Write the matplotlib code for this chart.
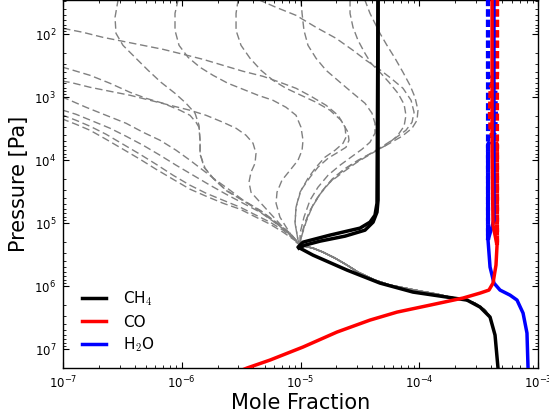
import numpy as np
import matplotlib
matplotlib.use("Agg")
import matplotlib.pyplot as plt

# ---------------- data (log10 mole fraction, log10 pressure [Pa]) ----------------
# nominal CH4 profile (black)
ch4_logp = [1.381, 4.683, 4.873, 4.984, 5.079, 5.190, 5.302, 5.381, 5.508, 5.746,
            5.952, 6.095, 6.175, 6.222, 6.333, 6.492, 6.778, 7.302, 7.492]
ch4_logx = [-4.347, -4.356, -4.373, -4.415, -4.499, -4.752, -4.979, -5.021, -4.895, -4.608,
            -4.331, -4.053, -3.766, -3.598, -3.488, -3.404, -3.362, -3.337, -3.337]
# second CH4 profile (quench region, black)
ch4b_logp = [1.381, 4.635, 4.825, 4.984, 5.111, 5.206, 5.286, 5.349, 5.397]
ch4b_logx = [-4.347, -4.347, -4.356, -4.389, -4.457, -4.625, -4.836, -4.962, -5.013]

# nominal CO profile (red)
co_logp = [1.381, 3.841, 5.032, 5.349, 5.667, 5.952, 6.063, 6.111, 6.190, 6.302,
           6.413, 6.540, 6.730, 6.968, 7.175, 7.302, 7.571]
co_logx = [-3.387, -3.387, -3.379, -3.345, -3.354, -3.379, -3.413, -3.488, -3.632, -3.909,
           -4.187, -4.415, -4.693, -4.979, -5.257, -5.451, -5.804]

# nominal H2O profile (blue)
h2o_logp = [1.381, 4.952, 5.270, 5.698, 5.952, 6.063, 6.143, 6.222, 6.429, 6.746, 7.302, 7.571]
h2o_logx = [-3.371, -3.371, -3.421, -3.404, -3.371, -3.320, -3.236, -3.177, -3.126, -3.093,
            -3.084, -3.084]

# other models: CO (red dashed) and H2O (blue dashed)
co_models_logp = [[1.381, 5.063, 5.349],
                  [1.381, 2.650, 2.850, 3.250, 3.550, 3.750, 5.349]]
co_models_logx = [[-3.345, -3.345, -3.345],
                  [-3.345, -3.345, -3.400, -3.405, -3.400, -3.345, -3.345]]
h2o_models_logp = [[1.381, 4.905, 5.270],
                   [1.381, 2.650, 2.850, 3.250, 3.550, 3.750, 4.905, 5.270]]
h2o_models_logx = [[-3.421, -3.421, -3.421],
                   [-3.421, -3.421, -3.360, -3.355, -3.360, -3.421, -3.421, -3.421]]

# other models: CH4 (grey dashed), upper-atmosphere part of each model
gray_logx = [
    # model top-left S curve
    [-6.528, -6.537, -6.562, -6.554, -6.495, -6.394, -6.284, -6.175, -6.057, -5.964, -5.888,
     -5.855, -5.846, -5.846, -5.813, -5.737, -5.627, -5.484, -5.341, -5.206, -5.088],
    [-7.194, -7.000, -6.941, -6.773, -6.604, -6.436, -6.301, -6.158, -6.015, -5.931, -5.880,
     -5.855, -5.846, -5.846, -5.804, -5.728, -5.619, -5.476, -5.333, -5.198, -5.080],
    [-7.194, -7.000, -6.941, -6.773, -6.604, -6.436, -6.267, -6.099, -5.931, -5.796, -5.653,
     -5.543, -5.459, -5.400, -5.375, -5.383, -5.417, -5.434, -5.417, -5.341, -5.257, -5.164, -5.063],
    [-7.278, -7.000, -6.832, -6.663, -6.495, -6.326, -6.158, -5.989, -5.821, -5.653, -5.484,
     -5.316, -5.173, -5.038, -4.912, -4.785, -4.684, -4.625, -4.617, -4.642, -4.709, -4.794,
     -4.869, -4.937, -5.004, -5.038, -5.046, -5.021],
    [-6.032, -6.032, -6.057, -6.057, -6.023, -5.947, -5.846, -5.737, -5.611, -5.484, -5.358,
     -5.232, -5.122, -5.038, -4.996, -4.979, -4.987, -5.021, -5.088, -5.156, -5.198, -5.206,
     -5.173, -5.105, -5.038],
    [-5.526, -5.526, -5.543, -5.543, -5.501, -5.425, -5.333, -5.232, -5.122, -4.996, -4.869,
     -4.752, -4.659, -4.600, -4.592, -4.617, -4.684, -4.768, -4.853, -4.920, -4.996, -5.038,
     -5.046, -5.021],
    [-5.383, -5.341, -5.206, -5.038, -4.869, -4.701, -4.558, -4.448, -4.347, -4.238, -4.137,
     -4.069, -4.044, -4.061, -4.112, -4.204, -4.322, -4.448, -4.575, -4.693, -4.785, -4.861,
     -4.928, -4.971, -5.004],
    [-4.996, -4.996, -4.987, -4.971, -4.937, -4.869, -4.785, -4.667, -4.558, -4.457, -4.398,
     -4.373, -4.373, -4.415, -4.482, -4.575, -4.667, -4.768, -4.853, -4.920, -4.971, -5.004],
    [-4.583, -4.583, -4.583, -4.558, -4.516, -4.457, -4.406, -4.331, -4.255, -4.179, -4.128,
     -4.112, -4.128, -4.187, -4.280, -4.398, -4.524, -4.642, -4.752, -4.836, -4.903, -4.954, -4.996],
    [-4.465, -4.457, -4.415, -4.373, -4.331, -4.272, -4.204, -4.137, -4.078, -4.036, -4.011,
     -4.019, -4.061, -4.145, -4.263, -4.389, -4.516, -4.634, -4.735, -4.819, -4.895, -4.954, -4.996],
    [-7.194, -7.000, -6.941, -6.806, -6.638, -6.469, -6.326, -6.183, -6.048, -5.931, -5.821,
     -5.712, -5.594, -5.484, -5.358, -5.240, -5.131, -5.038],
    [-7.194, -7.000, -6.891, -6.747, -6.604, -6.469, -6.326, -6.183, -6.048, -5.905, -5.762,
     -5.627, -5.484, -5.341, -5.232, -5.122, -5.038],
    [-7.194, -7.000, -6.891, -6.773, -6.638, -6.495, -6.352, -6.217, -6.074, -5.931, -5.796,
     -5.653, -5.509, -5.375, -5.257, -5.147, -5.038],
    [-7.194, -7.000, -6.891, -6.773, -6.638, -6.495, -6.352, -6.217, -6.074, -5.931, -5.796,
     -5.653, -5.509, -5.375, -5.257, -5.147, -5.038],
]
gray_logp = [
    [1.381, 1.460, 1.730, 1.984, 2.175, 2.365, 2.571, 2.762, 2.937, 3.095, 3.254,
     3.444, 3.683, 3.889, 4.111, 4.286, 4.476, 4.635, 4.794, 4.984, 5.159],
    [2.429, 2.524, 2.556, 2.651, 2.778, 2.921, 3.016, 3.095, 3.206, 3.286, 3.397,
     3.476, 3.698, 3.905, 4.127, 4.302, 4.492, 4.651, 4.810, 5.000, 5.175],
    [2.683, 2.746, 2.762, 2.841, 2.905, 2.968, 3.048, 3.127, 3.206, 3.286, 3.397,
     3.492, 3.603, 3.730, 3.889, 4.048, 4.190, 4.349, 4.508, 4.667, 4.841, 5.032, 5.222],
    [1.794, 1.905, 1.968, 2.048, 2.111, 2.175, 2.238, 2.317, 2.397, 2.492, 2.587,
     2.667, 2.762, 2.857, 2.984, 3.127, 3.286, 3.476, 3.635, 3.730, 3.841, 3.952,
     4.111, 4.286, 4.508, 4.746, 5.000, 5.270],
    [1.381, 1.460, 1.667, 1.937, 2.175, 2.365, 2.524, 2.651, 2.778, 2.873, 2.968,
     3.048, 3.159, 3.286, 3.476, 3.683, 3.841, 4.000, 4.159, 4.317, 4.508, 4.683,
     4.905, 5.111, 5.302],
    [1.381, 1.460, 1.667, 1.937, 2.175, 2.381, 2.571, 2.730, 2.857, 2.968, 3.079,
     3.206, 3.365, 3.556, 3.683, 3.794, 3.873, 3.968, 4.111, 4.270, 4.476, 4.746,
     5.000, 5.270],
    [1.381, 1.460, 1.571, 1.698, 1.889, 2.063, 2.254, 2.413, 2.540, 2.698, 2.857,
     3.048, 3.238, 3.397, 3.524, 3.651, 3.794, 3.937, 4.079, 4.238, 4.413, 4.603,
     4.825, 5.063, 5.302],
    [1.381, 1.460, 1.667, 1.937, 2.175, 2.381, 2.571, 2.762, 2.937, 3.095, 3.254,
     3.413, 3.571, 3.714, 3.825, 3.952, 4.079, 4.238, 4.429, 4.635, 4.905, 5.159],
    [1.381, 1.460, 1.667, 1.889, 2.095, 2.302, 2.460, 2.603, 2.762, 2.937, 3.111,
     3.286, 3.460, 3.619, 3.762, 3.889, 4.032, 4.190, 4.349, 4.540, 4.746, 4.984, 5.238],
    [1.381, 1.460, 1.667, 1.825, 1.984, 2.175, 2.381, 2.603, 2.810, 3.000, 3.206,
     3.365, 3.492, 3.619, 3.746, 3.873, 4.000, 4.143, 4.302, 4.492, 4.714, 4.952, 5.206],
    [2.889, 3.000, 3.048, 3.159, 3.286, 3.413, 3.556, 3.683, 3.841, 4.000, 4.159,
     4.317, 4.476, 4.635, 4.794, 4.952, 5.111, 5.270],
    [3.111, 3.206, 3.270, 3.381, 3.492, 3.619, 3.762, 3.921, 4.079, 4.238, 4.397,
     4.540, 4.683, 4.825, 4.968, 5.127, 5.286],
    [3.175, 3.286, 3.365, 3.460, 3.587, 3.746, 3.905, 4.063, 4.238, 4.397, 4.524,
     4.635, 4.746, 4.873, 4.984, 5.111, 5.286],
    [3.238, 3.349, 3.429, 3.524, 3.667, 3.825, 3.984, 4.143, 4.302, 4.460, 4.571,
     4.683, 4.778, 4.905, 5.016, 5.143, 5.286],
]
# shared deep part of the grey CH4 models
gray_deep_logx = [-5.004, -4.895, -4.811, -4.709, -4.608, -4.516, -4.373, -4.246, -4.120, -3.994,
                  -3.851, -3.741, -3.640, -3.531, -3.446, -3.404, -3.362, -3.337]
gray_deep_logp = [5.349, 5.397, 5.460, 5.556, 5.667, 5.778, 5.905, 5.984, 6.032, 6.079,
                  6.127, 6.175, 6.206, 6.270, 6.381, 6.492, 6.778, 7.302]

legend_labels = ["CH$_4$", "CO", "H$_2$O"]
x_limits = (1e-7, 1e-3)
p_limits = (2.0e7, 29.0)

# ---------------- plotting ----------------
plt.rcParams["mathtext.fontset"] = "cm"
plt.rcParams["font.family"] = ["DejaVu Sans"]

fig = plt.figure(figsize=(5.49, 4.16), dpi=100)
ax = fig.add_axes([0.1148, 0.1154, 0.8652, 0.8834])

def arr(v):
    return 10.0 ** np.asarray(v, dtype=float)

for lx, lp in zip(gray_logx, gray_logp):
    xs = np.concatenate([arr(lx), arr(gray_deep_logx)])
    ps = np.concatenate([arr(lp), arr(gray_deep_logp)])
    ax.plot(xs, ps, color="#808080", lw=1.0, dashes=(5.4, 2.7), zorder=1)

ax.plot(arr(ch4b_logx), arr(ch4b_logp), color="black", lw=2.5, zorder=3)
h_ch4, = ax.plot(arr(ch4_logx), arr(ch4_logp), color="black", lw=2.5, zorder=3,
                 label=legend_labels[0])

for lx, lp in zip(h2o_models_logx, h2o_models_logp):
    ax.plot(arr(lx), arr(lp), color="blue", lw=3.0, dashes=(1.7, 0.8), zorder=4)
for lx, lp in zip(co_models_logx, co_models_logp):
    ax.plot(arr(lx), arr(lp), color="red", lw=3.0, dashes=(1.7, 0.8), zorder=4)

h_h2o, = ax.plot(arr(h2o_logx), arr(h2o_logp), color="blue", lw=2.5, zorder=5,
                 label=legend_labels[2])
h_co, = ax.plot(arr(co_logx), arr(co_logp), color="red", lw=2.5, zorder=6,
                label=legend_labels[1])

ax.set_xscale("log")
ax.set_yscale("log")
ax.set_xlim(*x_limits)
ax.set_ylim(*p_limits)

ax.tick_params(which="both", direction="in", top=True, right=True, labelsize=8.5, pad=5)
ax.tick_params(which="major", length=4, width=0.8)
ax.tick_params(which="minor", length=2, width=0.6)
for s in ax.spines.values():
    s.set_linewidth(1.0)

ax.set_xlabel("Mole Fraction", fontsize=15, labelpad=1)
ax.set_ylabel("Pressure [Pa]", fontsize=15, labelpad=4)

ax.legend(handles=[h_ch4, h_co, h_h2o], loc="lower left", bbox_to_anchor=(0.01, 0.0),
          frameon=False, fontsize=11, handlelength=1.6, handletextpad=1.1,
          labelspacing=0.4, borderaxespad=0.5)

fig.savefig("out.png", dpi=100)
